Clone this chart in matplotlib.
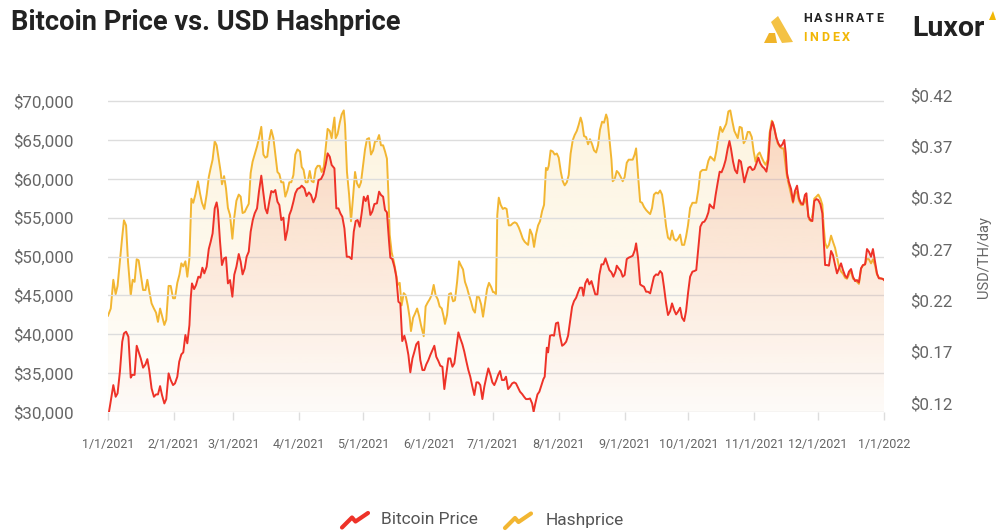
import numpy as np
import pandas as pd
import matplotlib
matplotlib.use("Agg")
import matplotlib.pyplot as plt
import matplotlib.dates as mdates
from matplotlib.lines import Line2D
from matplotlib.patches import Polygon
from matplotlib.ticker import FuncFormatter

# Bitcoin price (USD), days counted from 1/1/2021
btc_days = [
    0, 1, 2.5, 3.6, 4.5, 5.6, 6.7, 7.5, 8.5, 9.6, 10.7, 11.4, 12.5, 13.5, 14.4, 15.4, 16.5, 17.6, 18.5, 19.4,
    20.5, 21.6, 22.6, 23.5, 24.5, 25.4, 26.5, 27.4, 28.5, 29.5, 30.6, 31.5, 32.6, 33.5, 34.5, 35.4, 36.4, 37.3, 38.3, 38.9,
    39.5, 40.5, 41.4, 42.5, 43.4, 44.4, 45.3, 46.4, 47.4, 48.3, 49.2, 50.2, 51.1, 51.7, 52.7, 53.6, 54.6, 55.5, 56.4, 57.4,
    58.5, 59.4, 60.4, 61.5, 62.4, 63.3, 64.3, 65.2, 66.2, 67.1, 68.1, 69, 70.1, 71, 72.1, 73, 74, 74.9, 75.9, 76.8,
    77.8, 78.7, 79.7, 80.6, 81.5, 82.5, 83.4, 84.4, 85.3, 86.2, 87.2, 88.1, 89.1, 90.3,
    91.1, 92.4, 93.4, 94.5, 95.5, 96.6, 97.7, 99, 100.2, 101.3, 102.4, 103.3, 104.3, 105.2, 106.5, 107.4, 108.4, 109.3, 110.2, 111.2,
    112.3, 113.4, 114.6, 115.6, 116.5, 117.4, 118.4, 119.3, 120.3, 121.2, 122.2, 123.4, 124.3, 125.3, 126.5, 127.5, 128.4, 129.4, 130.3, 131.2,
    132.2, 132.8, 133.7, 134.7, 135.6, 136.6, 137.5, 138.4, 139.4, 140.3, 141.3, 142.2, 143.2, 144.1, 145, 146, 146.9, 147.9, 148.8, 149.7,
    150.7, 151.6, 152.6, 153.5, 154.4, 155.4, 156.3, 157.3, 158.2, 159.1, 160.1, 161, 162, 162.9, 163.9, 164.8, 165.7, 166.7, 167.6, 168.6,
    169.5, 170.4, 171.4, 172.3, 173.3, 174.2, 175.1, 176.1, 177, 178, 178.9, 179.9, 180.8, 181.7,
    182.5, 183.5, 184.4, 185.3, 186.3, 187.2, 188.2, 189.1, 190.1, 191, 191.9, 192.9, 193.8, 194.8, 195.7, 196.6, 197.6, 198.5, 199.5, 200.2,
    201, 202, 202.9, 203.9, 204.8, 205.4, 206.4, 207, 207.9, 208.9, 209.8, 210.7, 211.7, 212.6, 213.6, 214.5, 215.5, 216.4, 217.3, 218.3,
    219.2, 220.2, 221.1, 222, 223, 223.6, 224.5, 225.5, 226.4, 227.4, 228.3, 229.2, 230.2, 231.1, 232.1, 233, 234, 234.9, 235.8, 236.8,
    237.7, 238.7, 239.3, 240.2, 241.2, 242.1, 243, 244, 244.9, 245.9, 246.8, 247.8, 248.4, 249.3, 250.3, 251.2, 252.1, 253.1, 254, 255,
    255.9, 256.8, 257.8, 258.7, 259.7, 260.6, 261.5, 262.5, 263.4, 264.4, 265.3, 266.3, 267.2, 268.1, 269.1, 270, 271, 271.9, 272.9, 273.8,
    274.9, 275.8, 276.7, 277.7, 278.6, 279.6, 280.5, 281.4, 282.4, 283, 283.9, 284.9, 285.8, 286.8, 287.7, 288.6, 289.6, 290.5, 291.5, 292.3,
    293, 294, 294.9, 295.9, 296.8, 297.7, 298.7, 299.3, 300.3, 301.2, 302.1, 303.1, 304, 305, 305.9, 306.8, 307.8, 308.7, 309.7, 310.6,
    311.5, 312.5, 313.4, 314.4, 315.3, 316.2, 317.2, 318.1, 318.8, 319.4, 320.3, 321.3, 322.2, 323.1, 324.1, 325, 326, 326.9, 327.8, 328.5,
    329.4, 330.4, 331.3, 332.2, 333.2, 334.1, 335.1, 336, 336.6, 337.3, 338.2, 339.1, 340.1, 341, 342, 342.9, 343.8, 344.8, 345.7, 346.7,
    347.6, 348.5, 349.5, 350.4, 351.4, 352.3, 353.2, 354.2, 355.1, 356.1, 357, 357.9, 358.9, 359.8, 360.8, 361.7, 362.6, 363.6, 364.5, 365,
]
btc_usd = [
    29260, 30900, 33460, 31960, 32400, 35180, 39040, 40110, 40330, 39680, 34420, 34770, 34770, 38520, 37750, 36890, 35700, 36120, 36800, 35390,
    33030, 31960, 32260, 32260, 33330, 32180, 31100, 31660, 34970, 34110, 33460, 33680, 34540, 36470, 37410, 37670, 39900, 38830, 41180, 44610,
    46540, 45810, 46330, 47400, 47270, 48560, 47830, 48690, 50960, 51900, 52970, 56190, 56960, 55980, 51900, 48900, 49760, 49890, 46540, 46970,
    44830, 47660, 48690, 50320, 49330, 47700, 48470, 49970, 50620, 53190, 54690, 55550, 56190, 58340, 60400, 58340, 56190, 55550, 57130, 58420,
    58250, 58550, 57050, 56620, 54690, 55000, 52120, 53410, 55340, 55980, 57050, 58130, 58680, 58850,
    59110, 58760, 57780, 58250, 57910, 56960, 57690, 59830, 59970, 60570, 61850, 63270, 62840, 61770, 61340, 56190, 56190, 55550, 55120, 53620,
    49970, 49970, 49670, 53190, 54560, 54690, 53830, 55550, 57690, 57130, 57820, 55340, 55770, 56750, 56840, 58340, 57910, 57690, 55980, 55680,
    51900, 49850, 49670, 48690, 47400, 44180, 43970, 39120, 39810, 38830, 37330, 35100, 36890, 37750, 38700, 39040, 36680, 35390, 35390, 36120,
    36680, 37330, 37970, 38520, 37110, 36550, 35950, 35820, 32950, 34770, 36890, 36890, 35820, 36250, 38400, 40240, 39470, 38700, 37750, 36470,
    35390, 34540, 33250, 32180, 33810, 33810, 33460, 31660, 33250, 34540, 35610, 34770, 33810, 33460,
    33980, 34770, 35270, 34110, 34110, 34540, 32950, 33250, 33680, 33810, 33680, 33120, 32610, 32310, 31960, 31660, 31660, 31740, 31100, 30030,
    31100, 32260, 32610, 33460, 34240, 34540, 38270, 37670, 39810, 39900, 39810, 41400, 41520, 39810, 38520, 38700, 39040, 39810, 41610, 43540,
    44270, 44700, 45390, 45990, 45990, 44960, 46540, 47100, 46410, 46840, 45990, 45130, 45130, 47620, 48990, 48990, 49760, 48990, 48260, 47960,
    47400, 48050, 48820, 48470, 48130, 47400, 47620, 49670, 49850, 49970, 50100, 50830, 51690, 49850, 46410, 46240, 46110, 45470, 45470, 45260,
    46330, 47400, 47700, 47620, 48130, 47830, 46110, 43970, 42470, 42980, 43970, 43110, 42550, 42900, 43410, 42130, 41700, 42980, 45470, 47400,
    48050, 48130, 48260, 51260, 53830, 54390, 54480, 54900, 55680, 56710, 56410, 56190, 57910, 59540, 60910, 60830, 61550, 62410, 63910, 64850,
    63910, 62200, 61120, 60700, 62410, 62200, 60570, 59540, 60570, 61420, 61550, 61120, 61250, 61980, 62710, 61980, 61550, 61340, 60910, 62410,
    66050, 67340, 66480, 65200, 64550, 64130, 64420, 64980, 63270, 60700, 59540, 58680, 57050, 58420, 59110, 57480, 56840, 56710, 57910, 58130,
    55120, 54690, 54560, 57130, 57390, 57260, 56710, 55550, 52330, 48900, 48900, 48820, 50710, 50190, 48900, 47830, 48470, 49120, 48260, 47530,
    47270, 48050, 48390, 47400, 46840, 46970, 46670, 48470, 48900, 48990, 50960, 50620, 49970, 50960, 49330, 47830, 47190, 47190, 47100, 46970,
]

# USD hashprice (USD/TH/day), days counted from 1/1/2021
hash_days = [
    0, 1.3, 2.5, 3.6, 4.5, 5.6, 6.6, 7.5, 8.5, 9.4, 10.7, 11.6, 12.5, 13.5, 14.4, 15.4, 16.5, 17.6, 18.5, 19.4,
    20.5, 21.6, 22.6, 23.5, 24.5, 25.4, 26.5, 27.4, 28.5, 29.5, 30.6, 31.5, 32.6, 33.6, 34.5, 35.4, 36.4, 37.3, 38.3, 39.2,
    40.1, 41.1, 42.3, 43.3, 44.2, 45.3, 46.4, 47.4, 48.3, 49.2, 50.2, 51.1, 52.1, 53, 53.6, 54.6, 55.5, 56.4, 57.4, 58.5,
    59.4, 60.4, 61.5, 62.4, 63.3, 64.3, 65.2, 66.2, 67.1, 68, 69, 70.1, 71, 72.1, 73.1, 74, 74.9, 75.9, 76.8, 77.8,
    78.7, 79.7, 80.6, 81.5, 82.5, 83.4, 84.4, 85.3, 86.2, 87.2, 88.1, 89.1, 90.3,
    91.1, 92, 93, 93.9, 94.9, 95.8, 96.7, 97.7, 98.6, 99.6, 100.5, 101.5, 102.4, 103.3, 104.3, 105.2, 105.8, 106.5, 107.1, 108,
    109, 109.9, 110.9, 111.5, 112.4, 113.4, 114.3, 115.2, 116.2, 117.1, 118.1, 119, 120, 120.9, 121.8, 122.8, 123.7, 124.7, 125.6, 126.5,
    127.5, 128.4, 129.4, 130.3, 131.2, 131.9, 132.5, 133.4, 134.4, 135.3, 136.3, 137.2, 138.1, 139.1, 140, 141, 141.9, 142.5, 143.5, 144.4,
    145.4, 146.3, 147.2, 148.5, 149.4, 150.4, 151.3, 152.2, 153.2, 154.1, 155.1, 156, 157, 157.9, 158.5, 159.5, 160.4, 161.3, 162.3, 163.2,
    164.2, 165.1, 166, 167, 167.9, 168.9, 169.8, 170.7, 171.7, 172.6, 173.6, 174.5, 175.5, 176.4, 177.3, 178.3, 179.2, 180.2, 181.1,
    181.6, 182.5, 183.1, 183.8, 184.7, 185.7, 186.6, 187.5, 188.5, 189.4, 190.4, 191.3, 192.2, 193.2, 194.1, 195.1, 196, 197, 197.6, 198.5,
    199.5, 200.4, 201.3, 202.3, 203.2, 204.2, 205.1, 206, 206.7, 207.3, 208.2, 209.2, 210.1, 211.1, 212, 213, 213.9, 214.8, 215.8, 216.7,
    217.6, 218.6, 219.5, 220.5, 221.4, 222.3, 223, 223.9, 224.9, 225.8, 226.7, 227.7, 228.6, 229.6, 230.5, 231.4, 232.4, 233.3, 234.3, 234.9,
    235.8, 236.8, 237.4, 238.3, 239.3, 240.2, 241.2, 242.1, 243, 244, 244.9, 245.9, 246.8, 247.7, 248.4, 249.3, 250.3, 251.2, 252.1, 253.1,
    254, 255, 255.9, 256.8, 257.8, 258.7, 259.7, 260.6, 261.5, 262.5, 263.4, 264.4, 265.3, 266.2, 267.2, 268.1, 269.1, 270, 271, 271.9,
    272.8, 273.8,
    274.9, 275.8, 276.7, 277.7, 278.6, 279.6, 280.5, 281.4, 282.4, 283.3, 284.3, 285.2, 286.1, 287.1, 288, 289, 289.9, 290.8, 291.8, 292.7,
    293.7, 294.6, 295.5, 296.2, 297.1, 298.1, 299, 299.9, 300.9, 301.8, 302.8, 303.7, 304.6, 305.6, 306.5, 307.5, 308.4, 309.3, 310.3, 311.2,
    312.2, 313.1, 314, 315, 315.9, 316.9, 317.8, 318.4, 319.4, 320.3, 321.3, 322.2, 323.1, 324.1, 325, 326, 326.9, 327.8, 328.8, 329.7,
    330.7, 331.6, 332.2, 333.2, 334.1, 335.1, 336, 336.6, 337.3, 338.2, 339.1, 340.1, 341, 342, 342.9, 343.8, 344.8, 345.7, 346.7, 347.6,
    348.5, 349.5, 350.4, 351.4, 352.3, 353.2, 354.2, 355.1, 356.1, 357, 357.9, 358.9, 359.8, 360.8, 361.7, 362.6, 363.6, 364.5, 365,
]
hash_usd = [
    0.205, 0.212, 0.240, 0.226, 0.234, 0.258, 0.280, 0.298, 0.293, 0.258, 0.225, 0.240, 0.238, 0.260, 0.259, 0.245, 0.230, 0.230, 0.240, 0.229,
    0.217, 0.212, 0.208, 0.199, 0.212, 0.205, 0.196, 0.201, 0.234, 0.234, 0.222, 0.222, 0.237, 0.245, 0.256, 0.253, 0.258, 0.243, 0.261, 0.319,
    0.315, 0.323, 0.336, 0.324, 0.315, 0.309, 0.323, 0.340, 0.349, 0.357, 0.375, 0.371, 0.357, 0.345, 0.333, 0.341, 0.329, 0.310, 0.303, 0.280,
    0.301, 0.317, 0.323, 0.321, 0.305, 0.306, 0.310, 0.314, 0.344, 0.355, 0.362, 0.370, 0.378, 0.389, 0.362, 0.359, 0.360, 0.377, 0.386, 0.378,
    0.362, 0.345, 0.343, 0.335, 0.335, 0.321, 0.327, 0.335, 0.335, 0.342, 0.362, 0.367, 0.365,
    0.350, 0.347, 0.335, 0.335, 0.346, 0.336, 0.335, 0.348, 0.351, 0.351, 0.345, 0.350, 0.368, 0.387, 0.385, 0.378, 0.388, 0.398, 0.378, 0.382,
    0.393, 0.401, 0.405, 0.391, 0.345, 0.323, 0.297, 0.319, 0.345, 0.334, 0.330, 0.335, 0.352, 0.367, 0.377, 0.378, 0.362, 0.366, 0.375, 0.375,
    0.381, 0.371, 0.371, 0.365, 0.358, 0.323, 0.284, 0.267, 0.258, 0.248, 0.235, 0.237, 0.215, 0.227, 0.225, 0.215, 0.203, 0.190, 0.203, 0.207,
    0.212, 0.205, 0.196, 0.185, 0.214, 0.218, 0.221, 0.225, 0.235, 0.225, 0.221, 0.214, 0.212, 0.204, 0.197, 0.206, 0.226, 0.227, 0.219, 0.220,
    0.238, 0.258, 0.254, 0.250, 0.238, 0.232, 0.225, 0.219, 0.211, 0.208, 0.224, 0.223, 0.216, 0.204, 0.217, 0.231, 0.237, 0.233, 0.228,
    0.228, 0.226, 0.303, 0.320, 0.313, 0.309, 0.310, 0.309, 0.293, 0.293, 0.295, 0.296, 0.295, 0.291, 0.286, 0.280, 0.277, 0.275, 0.274, 0.289,
    0.284, 0.272, 0.284, 0.293, 0.297, 0.307, 0.313, 0.349, 0.347, 0.351, 0.366, 0.365, 0.362, 0.363, 0.359, 0.345, 0.336, 0.332, 0.335, 0.342,
    0.363, 0.376, 0.381, 0.385, 0.391, 0.398, 0.393, 0.380, 0.379, 0.372, 0.377, 0.372, 0.366, 0.364, 0.371, 0.386, 0.394, 0.393, 0.401, 0.397,
    0.378, 0.357, 0.336, 0.338, 0.346, 0.344, 0.340, 0.336, 0.340, 0.354, 0.357, 0.357, 0.357, 0.362, 0.368, 0.342, 0.316, 0.315, 0.311, 0.308,
    0.306, 0.304, 0.310, 0.323, 0.325, 0.324, 0.327, 0.323, 0.310, 0.292, 0.281, 0.279, 0.288, 0.280, 0.278, 0.280, 0.284, 0.274, 0.274, 0.282,
    0.293, 0.310,
    0.315, 0.315, 0.315, 0.328, 0.345, 0.347, 0.347, 0.347, 0.356, 0.360, 0.358, 0.356, 0.365, 0.379, 0.389, 0.384, 0.388, 0.392, 0.404, 0.405,
    0.394, 0.385, 0.381, 0.378, 0.389, 0.388, 0.373, 0.376, 0.384, 0.384, 0.379, 0.365, 0.355, 0.362, 0.364, 0.359, 0.355, 0.352, 0.357, 0.383,
    0.395, 0.391, 0.382, 0.373, 0.370, 0.368, 0.368, 0.357, 0.340, 0.332, 0.323, 0.315, 0.324, 0.326, 0.317, 0.313, 0.313, 0.319, 0.313, 0.299,
    0.297, 0.306, 0.319, 0.321, 0.323, 0.319, 0.313, 0.293, 0.276, 0.271, 0.274, 0.283, 0.277, 0.271, 0.262, 0.253, 0.248, 0.246, 0.242, 0.241,
    0.245, 0.249, 0.241, 0.240, 0.238, 0.236, 0.251, 0.254, 0.255, 0.261, 0.260, 0.256, 0.260, 0.254, 0.245, 0.242, 0.241, 0.241, 0.240,
]

btc_ticks = list(range(30000, 70001, 5000))
hash_ticks = [0.12, 0.17, 0.22, 0.27, 0.32, 0.37, 0.42]
series_names = ["Bitcoin Price", "Hashprice"]

RED = "#ee3228"
YELLOW = "#f2b632"
W, H = 997, 531

plt.rcParams["font.family"] = ["Roboto", "DejaVu Sans"]

start = pd.Timestamp("2021-01-01")


def to_num(days):
    return mdates.date2num(start + pd.to_timedelta(np.asarray(days, dtype=float), unit="D"))


def px(x, y):
    # figure pixel position (from top-left) -> figure fraction
    return x / W, 1 - y / H


def gradient_fill(axis, x, y, rgb, a_top, a_bot, y0, y1):
    poly = axis.fill_between(x, y, y0, facecolor="none", edgecolor="none")
    path = poly.get_paths()[0]
    img = np.zeros((256, 1, 4))
    img[..., :3] = matplotlib.colors.to_rgb(rgb)
    img[:, 0, 3] = np.linspace(a_top, a_bot, 256)
    im = axis.imshow(img, extent=[x.min(), x.max(), y0, y1], aspect="auto",
                     origin="upper", zorder=1, interpolation="bilinear")
    im.set_clip_path(path, transform=axis.transData)


def spaced_text(x0, x1, y, s, **kw):
    # spread letters of a logo word between two pixel positions
    texts = [fig.text(0, 0, ch, ha="left", va="center", **kw) for ch in s]
    widths = [t.get_window_extent(renderer).width for t in texts]
    gap = (x1 - x0 - sum(widths)) / (len(s) - 1)
    x = x0
    for t, w in zip(texts, widths):
        t.set_position(px(x, y))
        x += w + gap


fig = plt.figure(figsize=(W / 100, H / 100), dpi=100)
renderer = fig.canvas.get_renderer()
ax = fig.add_axes([108 / W, (H - 412) / H, 776 / W, 317 / H])
ax2 = ax.twinx()
ax.set_zorder(ax2.get_zorder() + 1)
ax.patch.set_visible(False)

x_btc = to_num(btc_days)
x_hash = to_num(hash_days)
btc_top = 70772
hash_lo, hash_hi = 0.1112, 0.42

gradient_fill(ax2, x_hash, np.array(hash_usd), "#f5bd3a", 0.17, 0.02, hash_lo, hash_hi)
ax2.plot(x_hash, hash_usd, color=YELLOW, lw=1.4, zorder=3, solid_joinstyle="round")

gradient_fill(ax, x_btc, np.array(btc_usd), "#ec5a32", 0.20, 0.015, 30000, btc_top)
ax.plot(x_btc, btc_usd, color=RED, lw=1.4, zorder=3, solid_joinstyle="round")

ax.set_xlim(to_num([0])[0], to_num([365])[0])
ax.set_ylim(30000, btc_top)
ax2.set_ylim(hash_lo, hash_hi)

for a in (ax, ax2):
    for s in a.spines.values():
        s.set_visible(False)

ax.set_yticks(btc_ticks)
ax.yaxis.set_major_formatter(FuncFormatter(lambda v, p: "${:,.0f}".format(v)))
ax.tick_params(axis="y", length=0, pad=25, labelsize=12.2, labelcolor="#666666")
ax.grid(axis="y", color="#dddddd", lw=1)
ax.set_axisbelow(True)

ax2.set_yticks(hash_ticks)
ax2.yaxis.set_major_formatter(FuncFormatter(lambda v, p: "${:.2f}".format(v)))
ax2.tick_params(axis="y", length=0, pad=19, labelsize=12.2, labelcolor="#666666")

ax.xaxis.set_major_locator(mdates.MonthLocator(bymonthday=1))
ax.xaxis.set_major_formatter(FuncFormatter(
    lambda v, p: "{0.month}/{0.day}/{0.year}".format(mdates.num2date(v))))
ax.tick_params(axis="x", length=6, width=1, color="#dddddd", pad=13,
               labelsize=9, labelcolor="#666666")

fig.text(*px(984, 257), "USD/TH/day", rotation=90, ha="center", va="center",
         fontsize=10.5, color="#666666")

# title
fig.text(*px(11, 23), "Bitcoin Price vs. USD Hashprice", ha="left", va="center",
         fontsize=19.6, fontweight="bold", color="#222222")

# logos
fig.add_artist(Polygon([px(771, 22), px(778, 16), px(793, 42), px(782, 43)],
                       closed=True, transform=fig.transFigure, facecolor="#f4c244", edgecolor="none"))
fig.add_artist(Polygon([px(764, 43), px(769, 33), px(775, 33), px(777, 43)],
                       closed=True, transform=fig.transFigure, facecolor="#f0b429", edgecolor="none"))
spaced_text(803, 883, 19, "HASHRATE", fontsize=9, fontweight="bold", color="#222222")
spaced_text(803, 850, 37, "INDEX", fontsize=9, fontweight="bold", color="#f2b705")
fig.text(*px(912, 28), "Luxor", ha="left", va="center", fontsize=20.5,
         fontweight="bold", color="#222222")
fig.add_artist(Polygon([px(989, 20), px(993, 11), px(996, 20)], closed=True,
                       transform=fig.transFigure, facecolor="#f2b705", edgecolor="none"))

# legend
icon = [(0, 1), (10, -9), (13.5, -5), (26, -13.5)]
for (x0, y0), color, name, tx in [((342, 526.5), RED, series_names[0], 381),
                                  ((505, 527), YELLOW, series_names[1], 546)]:
    pts = [px(x0 + dx, y0 + dy) for dx, dy in icon]
    fig.add_artist(Line2D([p[0] for p in pts], [p[1] for p in pts], transform=fig.transFigure,
                          color=color, lw=3, solid_capstyle="round", solid_joinstyle="round"))
    fig.text(*px(tx, 520), name, ha="left", va="center", fontsize=12.5, color="#555555")

fig.savefig("out.png", dpi=100)
